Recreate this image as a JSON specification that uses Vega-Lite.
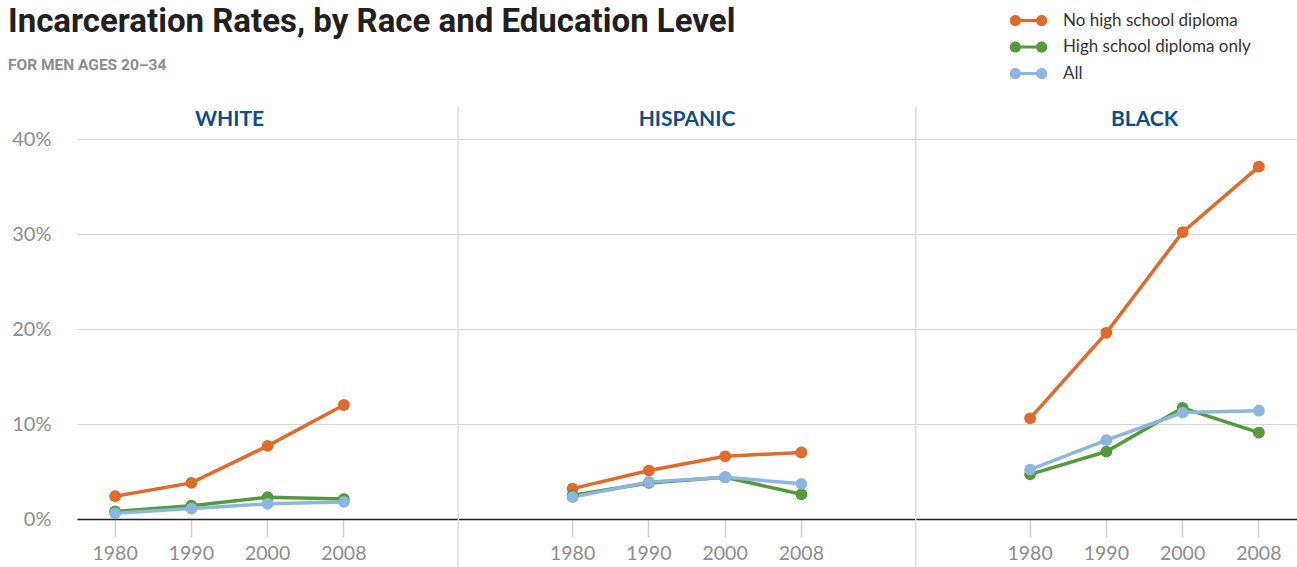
{
  "$schema": "https://vega.github.io/schema/vega-lite/v6.json",
  "width": 1220,
  "height": 380,
  "autosize": {"type": "none"},
  "padding": {"left": 77, "top": 139, "right": 0, "bottom": 48},
  "background": "white",
  "config": {"view": {"stroke": null}, "font": "Lato"},
  "title": {
    "text": "Incarceration Rates, by Race and Education Level",
    "subtitle": "FOR MEN AGES 20–34",
    "anchor": "start",
    "frame": "group",
    "dx": -69,
    "dy": 81,
    "offset": 20,
    "font": "Roboto",
    "fontSize": 33,
    "fontWeight": "bold",
    "color": "#231f20",
    "subtitleFont": "Roboto",
    "subtitleFontSize": 15.5,
    "subtitleFontWeight": "bold",
    "subtitleColor": "#8c8c8c",
    "subtitlePadding": 19
  },
  "datasets": {
    "rates": [
      {"race": "White", "year": "1980", "slot": "White 1980", "group": "No high school diploma", "rate": 2.4},
      {"race": "White", "year": "1990", "slot": "White 1990", "group": "No high school diploma", "rate": 3.8},
      {"race": "White", "year": "2000", "slot": "White 2000", "group": "No high school diploma", "rate": 7.7},
      {"race": "White", "year": "2008", "slot": "White 2008", "group": "No high school diploma", "rate": 12.0},
      {"race": "Hispanic", "year": "1980", "slot": "Hispanic 1980", "group": "No high school diploma", "rate": 3.2},
      {"race": "Hispanic", "year": "1990", "slot": "Hispanic 1990", "group": "No high school diploma", "rate": 5.1},
      {"race": "Hispanic", "year": "2000", "slot": "Hispanic 2000", "group": "No high school diploma", "rate": 6.6},
      {"race": "Hispanic", "year": "2008", "slot": "Hispanic 2008", "group": "No high school diploma", "rate": 7.0},
      {"race": "Black", "year": "1980", "slot": "Black 1980", "group": "No high school diploma", "rate": 10.6},
      {"race": "Black", "year": "1990", "slot": "Black 1990", "group": "No high school diploma", "rate": 19.6},
      {"race": "Black", "year": "2000", "slot": "Black 2000", "group": "No high school diploma", "rate": 30.2},
      {"race": "Black", "year": "2008", "slot": "Black 2008", "group": "No high school diploma", "rate": 37.1},
      {"race": "White", "year": "1980", "slot": "White 1980", "group": "High school diploma only", "rate": 0.8},
      {"race": "White", "year": "1990", "slot": "White 1990", "group": "High school diploma only", "rate": 1.4},
      {"race": "White", "year": "2000", "slot": "White 2000", "group": "High school diploma only", "rate": 2.3},
      {"race": "White", "year": "2008", "slot": "White 2008", "group": "High school diploma only", "rate": 2.1},
      {"race": "Hispanic", "year": "1980", "slot": "Hispanic 1980", "group": "High school diploma only", "rate": 2.5},
      {"race": "Hispanic", "year": "1990", "slot": "Hispanic 1990", "group": "High school diploma only", "rate": 3.8},
      {"race": "Hispanic", "year": "2000", "slot": "Hispanic 2000", "group": "High school diploma only", "rate": 4.4},
      {"race": "Hispanic", "year": "2008", "slot": "Hispanic 2008", "group": "High school diploma only", "rate": 2.6},
      {"race": "Black", "year": "1980", "slot": "Black 1980", "group": "High school diploma only", "rate": 4.7},
      {"race": "Black", "year": "1990", "slot": "Black 1990", "group": "High school diploma only", "rate": 7.1},
      {"race": "Black", "year": "2000", "slot": "Black 2000", "group": "High school diploma only", "rate": 11.7},
      {"race": "Black", "year": "2008", "slot": "Black 2008", "group": "High school diploma only", "rate": 9.1},
      {"race": "White", "year": "1980", "slot": "White 1980", "group": "All", "rate": 0.6},
      {"race": "White", "year": "1990", "slot": "White 1990", "group": "All", "rate": 1.1},
      {"race": "White", "year": "2000", "slot": "White 2000", "group": "All", "rate": 1.6},
      {"race": "White", "year": "2008", "slot": "White 2008", "group": "All", "rate": 1.8},
      {"race": "Hispanic", "year": "1980", "slot": "Hispanic 1980", "group": "All", "rate": 2.3},
      {"race": "Hispanic", "year": "1990", "slot": "Hispanic 1990", "group": "All", "rate": 3.9},
      {"race": "Hispanic", "year": "2000", "slot": "Hispanic 2000", "group": "All", "rate": 4.4},
      {"race": "Hispanic", "year": "2008", "slot": "Hispanic 2008", "group": "All", "rate": 3.7},
      {"race": "Black", "year": "1980", "slot": "Black 1980", "group": "All", "rate": 5.2},
      {"race": "Black", "year": "1990", "slot": "Black 1990", "group": "All", "rate": 8.3},
      {"race": "Black", "year": "2000", "slot": "Black 2000", "group": "All", "rate": 11.2},
      {"race": "Black", "year": "2008", "slot": "Black 2008", "group": "All", "rate": 11.4}
    ],
    "panels": [
      {"slot": "White 2000", "label": "WHITE"},
      {"slot": "Hispanic 2000", "label": "HISPANIC"},
      {"slot": "Black 2000", "label": "BLACK"}
    ],
    "dividers": [
      {"slot": "gap2"},
      {"slot": "gap4"}
    ]
  },
  "encoding": {
    "x": {
      "field": "slot",
      "type": "nominal",
      "scale": {
        "type": "band",
        "paddingInner": 0,
        "paddingOuter": 0,
        "domain": ["White 1980", "White 1990", "White 2000", "White 2008", "gap1", "gap2", "Hispanic 1980", "Hispanic 1990", "Hispanic 2000", "Hispanic 2008", "gap3", "gap4", "Black 1980", "Black 1990", "Black 2000", "Black 2008"]
      },
      "axis": {
        "title": null,
        "values": ["White 1980", "White 1990", "White 2000", "White 2008", "Hispanic 1980", "Hispanic 1990", "Hispanic 2000", "Hispanic 2008", "Black 1980", "Black 1990", "Black 2000", "Black 2008"],
        "labelExpr": "slice(datum.value, -4)",
        "labelAngle": 0,
        "labelFont": "Lato",
        "labelFontSize": 19.5,
        "labelColor": "#8c8c8c",
        "labelPadding": 7,
        "domainColor": "#231f20",
        "domainWidth": 1.5,
        "tickColor": "#d0d0d0",
        "tickSize": 18,
        "tickWidth": 1.5,
        "grid": false
      }
    }
  },
  "layer": [
    {
      "data": {"name": "dividers"},
      "mark": {"type": "rule", "color": "#dcdcdc", "strokeWidth": 1.5},
      "encoding": {
        "x": {"field": "slot", "type": "nominal", "bandPosition": 0},
        "y": {"datum": 43.4, "type": "quantitative"},
        "y2": {"datum": -5.1}
      }
    },
    {
      "data": {"name": "panels"},
      "mark": {"type": "text", "font": "Lato", "fontSize": 21, "fontWeight": "bold", "color": "#0f4c8a", "baseline": "middle", "align": "center"},
      "encoding": {
        "x": {"field": "slot", "type": "nominal", "bandPosition": 0},
        "y": {"datum": 42.0, "type": "quantitative"},
        "text": {"field": "label"}
      }
    },
    {
      "data": {"name": "rates"},
      "mark": {"type": "line", "strokeWidth": 3.5, "point": {"filled": true, "size": 140, "opacity": 1}},
      "encoding": {
        "y": {
          "field": "rate",
          "type": "quantitative",
          "scale": {"domain": [0, 40], "nice": false},
          "axis": {
            "title": null,
            "values": [0, 10, 20, 30, 40],
            "labelExpr": "datum.value + '%'",
            "labelFont": "Lato",
            "labelFontSize": 20,
            "labelColor": "#8c8c8c",
            "labelPadding": 26,
            "domain": false,
            "ticks": false,
            "grid": true,
            "gridColor": "#d6d6d6",
            "gridWidth": 1.2
          }
        },
        "detail": {"field": "race", "type": "nominal"},
        "color": {
          "field": "group",
          "type": "nominal",
          "sort": null,
          "scale": {
            "domain": ["No high school diploma", "High school diploma only", "All"],
            "range": ["#df6a2e", "#55993a", "#8db6dd"]
          },
          "legend": {
            "title": null,
            "orient": "none",
            "legendX": 943,
            "legendY": -127,
            "padding": 0,
            "symbolType": "M-2.68,0 A0.8,0.8 0 1,1 -1.08,0 A0.8,0.8 0 1,1 -2.68,0 Z M1.08,0 A0.8,0.8 0 1,1 2.68,0 A0.8,0.8 0 1,1 1.08,0 Z M-1.88,-0.22 L1.88,-0.22 L1.88,0.22 L-1.88,0.22 Z",
            "symbolSize": 196,
            "symbolStrokeWidth": 0,
            "labelFont": "Lato",
            "labelFontSize": 17,
            "labelColor": "#333333",
            "labelOffset": 26,
            "labelLimit": 400,
            "rowPadding": 8.5,
            "encode": {
              "symbols": {
                "update": {
                  "fill": {"scale": "color", "field": "value"},
                  "stroke": {"value": "transparent"},
                  "opacity": {"value": 1}
                }
              }
            }
          }
        }
      }
    }
  ]
}
